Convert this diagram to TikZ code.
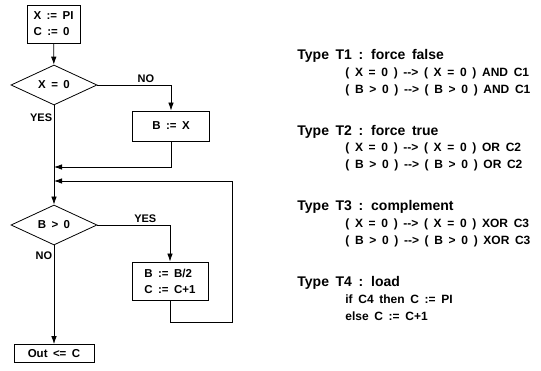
\documentclass[tikz,border=0pt]{standalone}
\usepackage{fontspec}
\setmainfont{Liberation Sans}[WordSpace=1.7]
\usetikzlibrary{arrows.meta}
\usetikzlibrary{positioning, shapes.geometric}

\begin{document}
\begin{tikzpicture}[x=1pt, y=-1pt, line width=0.8pt,
    box/.style={draw, rectangle, align=left, inner sep=0pt, font=\bfseries\fontsize{11.5}{16}\selectfont},
    test/.style={draw, diamond, aspect=2.15, inner sep=0pt, minimum width=86pt, minimum height=40pt, font=\bfseries\fontsize{11.5}{13}\selectfont},
    flow/.style={-{Latex[length=8pt,width=5.5pt]}},
    lbl/.style={inner sep=1.5pt, font=\bfseries\fontsize{11}{12}\selectfont},
    head/.style={anchor=west, inner sep=0pt, font=\bfseries\fontsize{14}{16}\selectfont},
    rule/.style={anchor=west, inner sep=0pt, font=\bfseries\fontsize{12}{14}\selectfont}]
    \useasboundingbox (0,0) rectangle (541,371);

    % flow chart
    \node[box, minimum width=53pt, minimum height=38pt] (init) at (53.5,24) {X := PI\\C := 0};
    \node[test] (testx) at (54,85) {X = 0};
    \node[box, minimum width=77pt, minimum height=30pt] (setb) at (171,126) {B := X};
    \coordinate (join1) at (54,167);
    \coordinate (join2) at (54,181);
    \node[test] (testb) at (54,225) {B > 0};
    \node[box, minimum width=76pt, minimum height=38pt] (halve) at (170,281) {B := B/2\\C := C+1};
    \coordinate (back) at (232,322);
    \node[box, minimum width=80pt, minimum height=18pt] (out) at (54,353.5) {Out <= C};

    \draw[flow] (init) -- (testx);
    \draw[flow] (testx.east) -| node[lbl, pos=0.33, above] (no1) {NO} (setb.north);
    \draw[flow] (testx.south) -- node[lbl, pos=0.12, left] (yes1) {YES} (testb.north);
    \draw[flow] (setb.south) |- (join1);
    \draw[flow] (halve.south) |- (back) |- (join2);
    \draw[flow] (testb.east) -| node[lbl, pos=0.33, above] (yes2) {YES} (halve.north);
    \draw[flow] (testb.south) -- node[lbl, pos=0.1, left] (no2) {NO} (out.north);

    % fault types
    \node[head] (t1) at (297,56) {Type T1 : force false};
    \node[rule] (t1a) at (345,73) {( X = 0 ) -{}-> ( X = 0 ) AND C1};
    \node[rule] (t1b) at (345,90) {( B > 0 ) -{}-> ( B > 0 ) AND C1};

    \node[head] (t2) at (297,131.5) {Type T2 : force true};
    \node[rule] (t2a) at (345,148.5) {( X = 0 ) -{}-> ( X = 0 ) OR C2};
    \node[rule] (t2b) at (345,165.5) {( B > 0 ) -{}-> ( B > 0 ) OR C2};

    \node[head] (t3) at (297,207) {Type T3 : complement};
    \node[rule] (t3a) at (345,224) {( X = 0 ) -{}-> ( X = 0 ) XOR C3};
    \node[rule] (t3b) at (345,241) {( B > 0 ) -{}-> ( B > 0 ) XOR C3};

    \node[head] (t4) at (297,282.5) {Type T4 : load};
    \node[rule] (t4a) at (345,299.5) {if C4 then C := PI};
    \node[rule] (t4b) at (345,316.5) {else C := C+1};
\end{tikzpicture}
\end{document}
